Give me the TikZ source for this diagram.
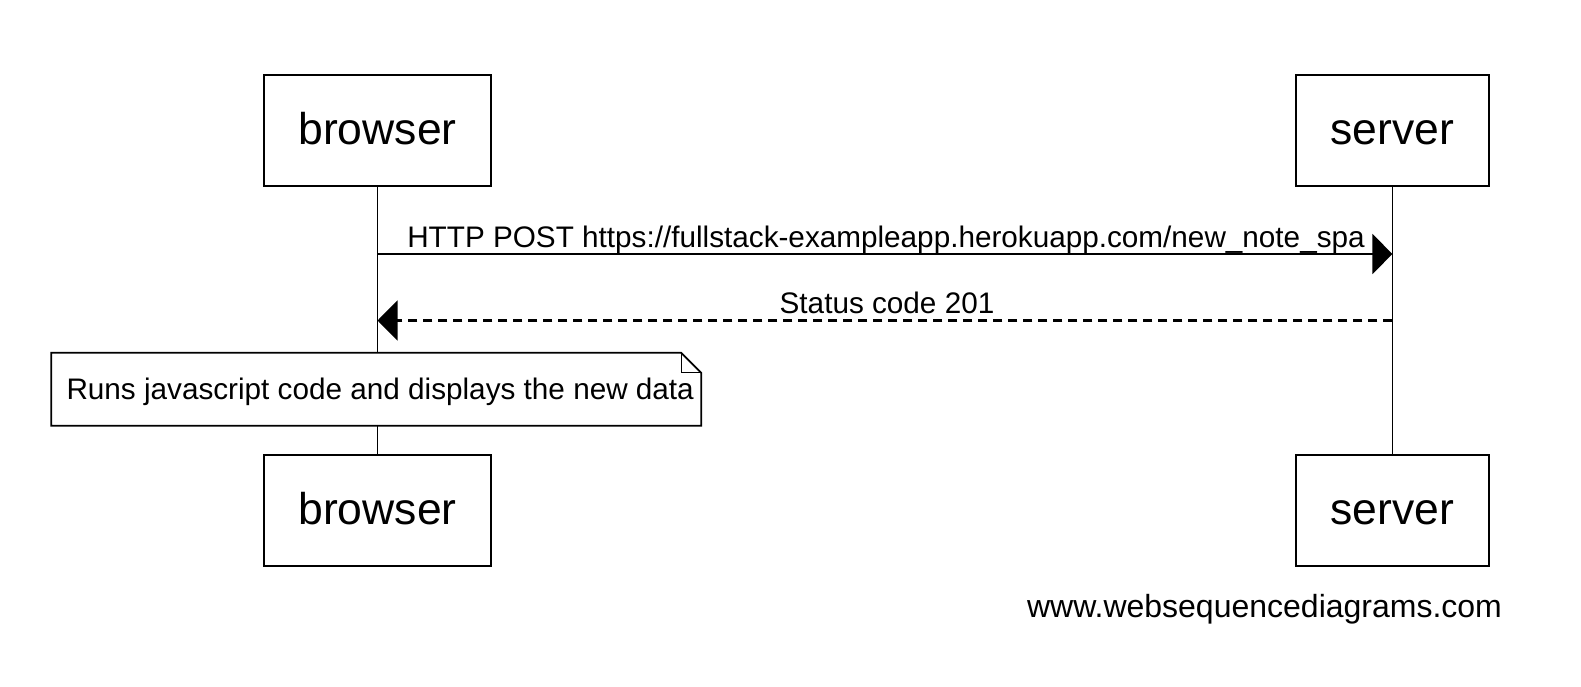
\documentclass[tikz,border=0pt]{standalone}
\usepackage{fontspec}
\setmainfont{Liberation Sans}
\usetikzlibrary{arrows.meta}
\begin{document}
\begin{tikzpicture}[x=1pt,y=1pt,
  actor/.style={draw, line width=2pt, inner sep=0pt, minimum height=111pt,
    font=\fontsize{44.5}{50}\selectfont, text height=32pt, text depth=4pt},
  lifeline/.style={line width=1.8pt},
  msgfont/.style={font=\fontsize{29.7}{34}\selectfont},
  msg/.style={line width=1.9pt, -{Triangle[length=20pt,width=40pt]}},
  reply/.style={msg, line width=2.3pt, dash pattern=on 9pt off 6pt},
  notebox/.style={fill=white, inner sep=0pt, minimum width=649.6pt, minimum height=72.5pt,
    text height=22pt, text depth=0.6pt, font=\fontsize{29.7}{34}\selectfont}
]
\useasboundingbox (0,0) rectangle (1581,-687);
% actors
\node[actor, minimum width=227pt] (bt) at (377.5,-131) {browser};
\node[actor, minimum width=193.6pt] (st) at (1392.4,-131) {server};
\node[actor, minimum width=227pt] (bb) at (377.5,-510.7) {browser};
\node[actor, minimum width=193.6pt] (sb) at (1392.4,-510.7) {server};
% lifelines
\draw[lifeline] (bt.south) -- (bb.north);
\draw[lifeline] (st.south) -- (sb.north);
% messages
\coordinate (m1a) at (377.5,-254);
\coordinate (m1b) at (1392.4,-254);
\coordinate (m2a) at (1392.4,-320.5);
\coordinate (m2b) at (377.5,-320.5);
\draw[msg] (m1a) -- (m1b);
\draw[reply] (m2a) -- (m2b);
\node[msgfont, anchor=base, inner sep=0pt] (l1) at (886,-247) {HTTP POST https://fullstack-exampleapp.herokuapp.com/new\_note\_spa};
\node[msgfont, anchor=base, inner sep=0pt] (l2) at (887,-313) {Status code 201};
% note
\node[notebox] (note) at (376.2,-389.25) {\kern8pt Runs javascript code and displays the new data};
\draw[line width=1.8pt] (note.north west) -- ([xshift=-20pt]note.north east) -- ([yshift=-20pt]note.north east) -- (note.south east) -- (note.south west) -- cycle;
\draw[line width=1.2pt] ([xshift=-20pt]note.north east) |- ([yshift=-20pt]note.north east);
% watermark
\node[font=\fontsize{32}{36}\selectfont, anchor=base, inner sep=0pt] (wm) at (1264.5,-617) {www.websequencediagrams.com};
\end{tikzpicture}
\end{document}
